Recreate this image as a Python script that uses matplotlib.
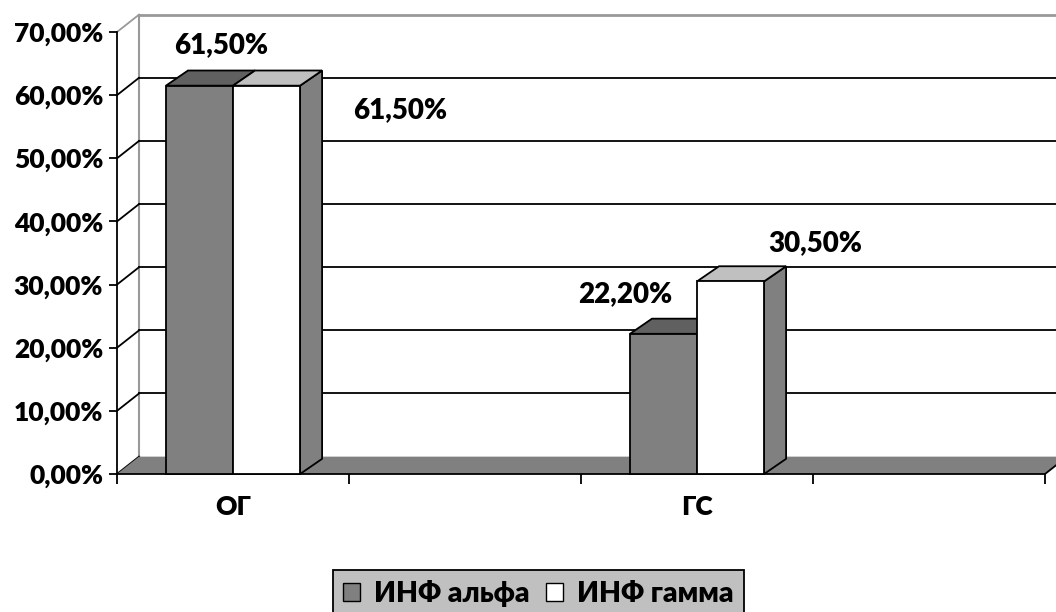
import numpy as np
import matplotlib
matplotlib.use('Agg')
import matplotlib.pyplot as plt
from matplotlib.patches import Polygon, Rectangle, Patch

plt.rcParams['font.family'] = ['Lato', 'DejaVu Sans']
plt.rcParams['font.weight'] = 'heavy'
plt.rcParams['font.size'] = 19

## данные
categories = ['ОГ', 'ГС']
series = ['ИНФ альфа', 'ИНФ гамма']
alpha_vals = [61.5, 22.2]
gamma_vals = [61.5, 30.5]
yticks = [0, 10, 20, 30, 40, 50, 60, 70]

cat_slots = [0, 2]          # 4 позиции по оси, заняты 0 и 2
n_slots = 4
bar_w = 0.289
gap = 0.211

# смещение "глубины" для псевдо-3D
wall_dx, wall_dy = 0.095, 2.75
bar_dx, bar_dy = 0.095, 2.4

face = {'ИНФ альфа': ('#808080', '#606060', '#606060'),
        'ИНФ гамма': ('#ffffff', '#c0c0c0', '#808080')}

fig = plt.figure(figsize=(10.56, 6.12), dpi=100)
ax = fig.add_axes([117/1056, 138/612, 928/1056, 442/612])
ax.set_xlim(0, n_slots)
ax.set_ylim(0, 70)
for s in ['top', 'right', 'bottom']:
    ax.spines[s].set_visible(False)
ax.spines['left'].set_linewidth(1.3)
ax.patch.set_visible(False)

# задняя стенка
xr = n_slots + 0.5
ax.add_patch(Polygon([(wall_dx, wall_dy), (xr, wall_dy), (xr, 70 + wall_dy), (wall_dx, 70 + wall_dy)],
                     closed=True, fc='white', ec='none', clip_on=False, zorder=0))
ax.plot([wall_dx, xr], [70 + wall_dy] * 2, color='#999999', lw=2, clip_on=False, zorder=1)
ax.plot([wall_dx, wall_dx], [wall_dy, 70 + wall_dy], color='#999999', lw=1.5, clip_on=False, zorder=1)
for t in yticks[1:-1]:
    ax.plot([wall_dx, xr], [t + wall_dy] * 2, color='black', lw=1.3, clip_on=False, zorder=1)
for t in yticks:
    col = '#999999' if t == 70 else 'black'
    ax.plot([0, wall_dx], [t, t + wall_dy], color=col, lw=1.3, clip_on=False, zorder=1)

# пол
ax.add_patch(Polygon([(0, 0), (n_slots, 0), (n_slots + wall_dx, wall_dy), (xr, wall_dy), (xr, 0 + wall_dy),
                      (wall_dx, wall_dy)], closed=True, fc='#808080', ec='none', clip_on=False, zorder=2))
ax.plot([0, n_slots, n_slots + wall_dx], [0, 0, wall_dy], color='black', lw=1.3, clip_on=False, zorder=3)


def bar3d(x0, h, fc, tc, sc):
    x1 = x0 + bar_w
    ax.add_patch(Polygon([(x1, 0), (x1 + bar_dx, bar_dy), (x1 + bar_dx, h + bar_dy), (x1, h)],
                         closed=True, fc=sc, ec='black', lw=1.3, clip_on=False, zorder=4))
    ax.add_patch(Polygon([(x0, h), (x0 + bar_dx, h + bar_dy), (x1 + bar_dx, h + bar_dy), (x1, h)],
                         closed=True, fc=tc, ec='black', lw=1.3, clip_on=False, zorder=4))
    ax.add_patch(Rectangle((x0, 0), bar_w, h, fc=fc, ec='black', lw=1.3, clip_on=False, zorder=5))


for i, slot in enumerate(cat_slots):
    bar3d(slot + gap, alpha_vals[i], *face[series[0]])
    bar3d(slot + gap + bar_w, gamma_vals[i], *face[series[1]])

# подписи значений
label_pos = [(0.45, 67.9), (1.22, 57.6), (2.19, 28.5), (3.01, 36.6)]
vals = [alpha_vals[0], gamma_vals[0], alpha_vals[1], gamma_vals[1]]
for (lx, ly), v in zip(label_pos, vals):
    ax.text(lx, ly, f'{v:.2f}%'.replace('.', ','), ha='center', va='center', fontsize=20, zorder=6)

# оси
ax.set_yticks(yticks)
ax.set_yticklabels([f'{t:.2f}%'.replace('.', ',') for t in yticks])
ax.tick_params(axis='y', direction='out', length=6, width=1.3, pad=4)
ax.set_xticks(range(n_slots + 1))
ax.set_xticklabels([])
ax.tick_params(axis='x', which='major', direction='out', length=7, width=1.3)
ax.set_xticks([s + 0.5 for s in cat_slots], minor=True)
ax.set_xticklabels(categories, minor=True)
ax.tick_params(axis='x', which='minor', length=0, pad=15)

handles = [Patch(fc=face[s][0], ec='black', lw=1) for s in series]
leg = fig.legend(handles, series, loc='upper left', bbox_to_anchor=(333/1056, 1 - 570/612),
                 ncol=2, frameon=True, fancybox=False, handlelength=0.6, handleheight=0.6,
                 handletextpad=0.5, columnspacing=0.6, borderpad=0.35, borderaxespad=0,
                 prop={'size': 20.3, 'weight': 'heavy'})
leg.get_frame().set_facecolor('#c0c0c0')
leg.get_frame().set_edgecolor('black')
leg.get_frame().set_linewidth(1.3)
leg.get_frame().set_alpha(1)

fig.savefig('out.png', dpi=100)
